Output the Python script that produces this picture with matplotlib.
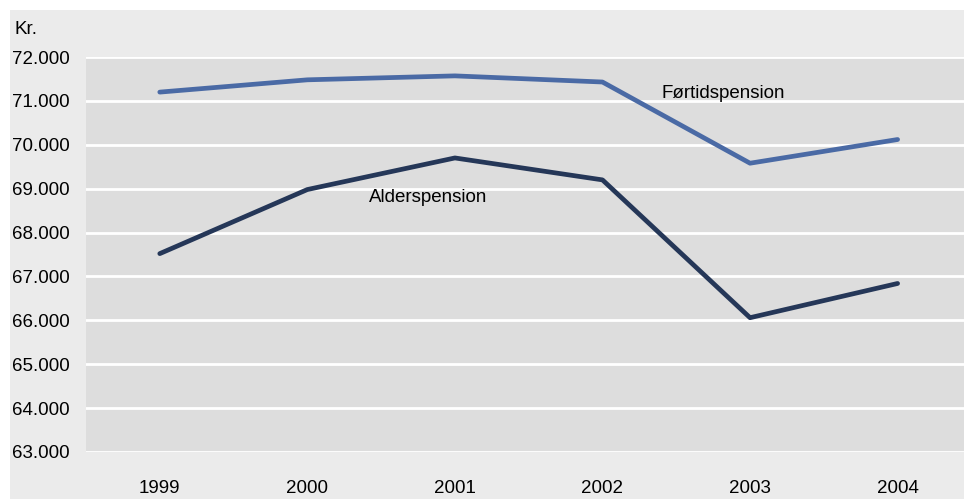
import numpy as np
import matplotlib.pyplot as plt
from matplotlib.patches import Rectangle

plt.rcParams['font.family'] = ['Liberation Sans', 'DejaVu Sans']

years = ["1999", "2000", "2001", "2002", "2003", "2004"]
foertid = [71.2, 71.48, 71.57, 71.43, 69.58, 70.12]
alder = [67.52, 68.98, 69.7, 69.2, 66.06, 66.84]
yticks = np.arange(63, 73, 1)

W, H = 964, 499
fig = plt.figure(figsize=(W / 100, H / 100), dpi=100)
fig.patch.set_facecolor("white")
# grey frame behind the chart
fig.patches.append(Rectangle((10 / W, 0), 1 - 10 / W, 1 - 10 / H, transform=fig.transFigure,
                             facecolor="#ebebeb", edgecolor="none", zorder=0))

ax = fig.add_axes([86 / W, (H - 452) / H, (W - 86) / W, (452 - 57) / H])
ax.set_zorder(2)
ax.set_facecolor("#dddddd")
x = np.arange(len(years))

ax.plot(x, foertid, color="#4a6aa5", lw=3.4, solid_capstyle="round", zorder=3)
ax.plot(x, alder, color="#253758", lw=3.4, solid_capstyle="round", zorder=3)

ax.set_xlim(-0.5, 5.45)
ax.set_ylim(63, 72)
ax.set_yticks(yticks)
ax.set_yticklabels([f"{v}.000" for v in yticks])
ax.set_xticks(x)
ax.set_xticklabels(years)
ax.grid(axis="y", color="white", lw=2)
ax.set_axisbelow(True)
for s in ax.spines.values():
    s.set_visible(False)
ax.tick_params(axis="y", length=0, pad=12, labelsize=13.5)
ax.tick_params(axis="x", length=0, pad=20, labelsize=13.5)

ax.text(3.4, 71.17, "Førtidspension", fontsize=13.5, va="center", ha="left")
ax.text(1.42, 68.8, "Alderspension", fontsize=13.5, va="center", ha="left")
fig.text(14 / W, 1 - 30 / H, "Kr.", fontsize=13.5, va="center", ha="left")

fig.savefig("out.png", dpi=100)
